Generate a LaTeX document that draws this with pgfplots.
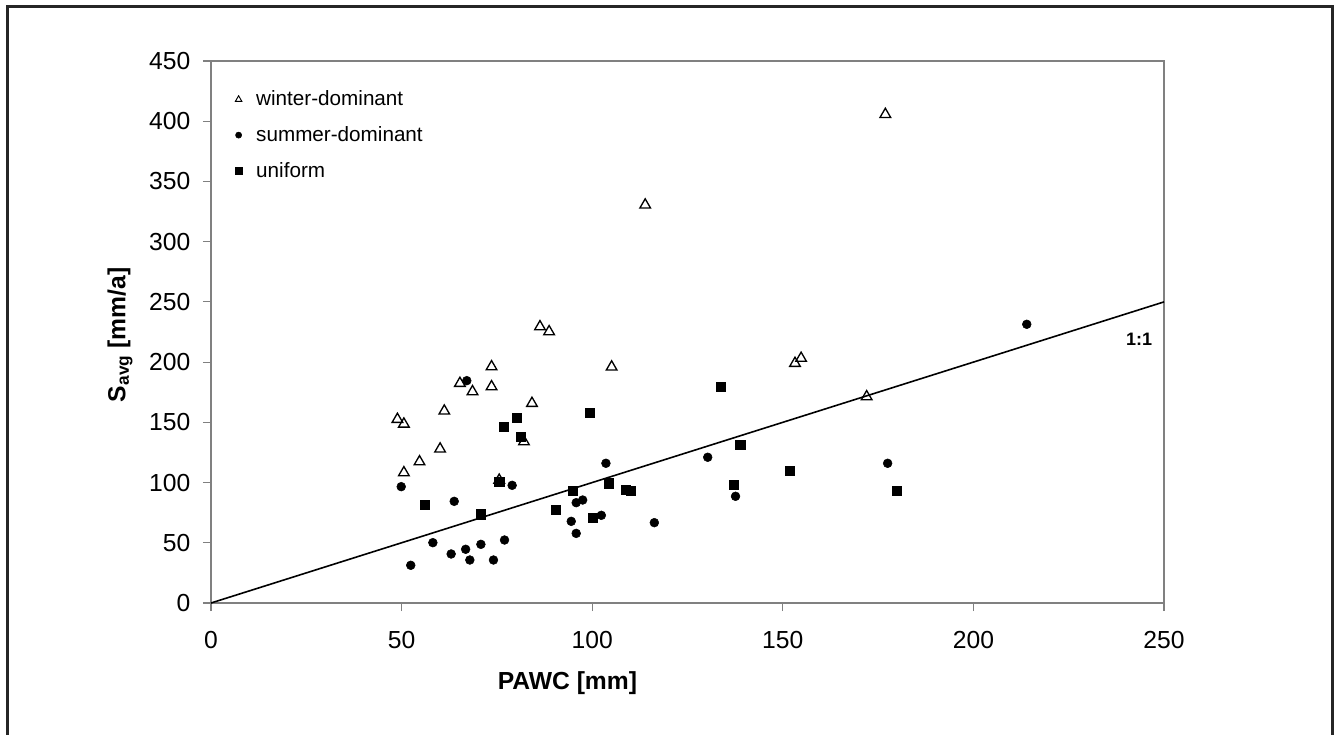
\documentclass[border=0pt]{standalone}
\usepackage{fontspec}
\setmainfont{Liberation Sans}
\usepackage{pgfplots}
\pgfplotsset{compat=1.18}

\pgfplotsset{
    legtri/.style={legend image code/.code={\path (0pt,0pt) (11pt,0pt);\draw[##1, mark size=2.8pt, mark options={line width=0.7pt}] plot coordinates {(0pt,0pt)};}},
    legdot/.style={legend image code/.code={\path (0pt,0pt) (11pt,0pt);\draw[##1, mark size=2.3pt] plot coordinates {(0pt,0pt)};}},
    legsq/.style={legend image code/.code={\path (0pt,0pt) (11pt,0pt);\draw[##1, mark size=2.4pt] plot coordinates {(0pt,0pt)};}},
}

% 1 px of the reference = 0.75pt, axis box south west at (0,0)
\begin{document}
\begin{tikzpicture}[x=1pt,y=1pt]
\useasboundingbox (-158.25,-99) rectangle (845.25,452.25);
\draw[line width=2.25pt, black!85] (-152.25,-99) -- (-152.25,447) -- (840.75,447) -- (840.75,-99);

\begin{axis}[
    at={(0,0)}, anchor=south west,
    scale only axis,
    width=714.75pt, height=406.5pt,
    xmin=0, xmax=250, ymin=0, ymax=450,
    xtick={0,50,...,250},
    ytick={0,50,...,450},
    axis line style={gray, line width=0.8pt},
    tick style={gray, line width=0.8pt},
    tick align=outside,
    major tick length=6pt,
    xtick pos=bottom, ytick pos=left,
    /pgf/number format/assume math mode=true,
    ticklabel style={font=\fontsize{18.5}{21}\selectfont},
    xticklabel style={yshift=-12pt},
    yticklabel style={xshift=-6pt},
    xlabel={\textbf{PAWC [mm]}},
    ylabel={\textbf{S\textsubscript{avg} [mm/a]}},
    label style={font=\fontsize{18.5}{21}\selectfont},
    xlabel style={at={(axis description cs:0.374,-0.148)}, anchor=center},
    ylabel style={at={(axis description cs:-0.0955,0.495)}, anchor=center},
    legend style={at={(axis description cs:0.0225,0.955)}, anchor=north west,
        draw=none, fill=none, font=\fontsize{15.5}{18}\selectfont,
        row sep=10pt, inner sep=2pt},
    legend cell align=left,
    clip=false,
]

% 1:1 line
\addplot[black, line width=1.2pt, forget plot] coordinates {(0,0) (250,250)};

% winter-dominant
\addplot[only marks, mark=triangle, mark size=4.6pt,
    mark options={draw=black, fill=white, line width=1pt}, legtri]
coordinates {
    (48.9,152.5) (50.6,148.6) (50.6,108.2) (54.7,117.3) (60.1,127.9)
    (61.2,159.4) (65.3,182.4) (68.6,175.5) (73.6,196.2) (73.6,179.6)
    (75.6,102.0) (82.1,133.9) (84.2,165.8) (86.3,229.4) (88.7,225.3)
    (105.1,196.0) (113.9,330.5) (153.2,199.0) (154.8,203.2) (172.0,171.3)
    (176.9,405.7)
};
\addlegendentry{winter-dominant}

% summer-dominant
\addplot[only marks, mark=*, mark size=3.3pt, mark options={draw=black, fill=black}, legdot]
coordinates {
    (67.1,184.6) (49.9,96.6) (79.0,97.7) (63.8,84.4) (103.6,116.0)
    (95.8,83.3) (97.5,85.5) (102.4,72.8) (94.5,67.8) (95.8,57.8)
    (116.3,66.7) (58.2,50.1) (63.0,40.7) (66.8,44.6) (70.8,48.7)
    (77.0,52.3) (67.9,35.7) (74.1,35.7) (52.4,31.3) (130.3,121.0)
    (137.6,88.6) (214.0,231.4) (177.5,116.0)
};
\addlegendentry{summer-dominant}

% uniform
\addplot[only marks, mark=square*, mark size=3.5pt, mark options={draw=black, fill=black}, legsq]
coordinates {
    (99.3,158.0) (80.2,153.9) (76.8,146.4) (81.2,138.1) (75.6,100.7)
    (56.1,81.6) (70.7,73.6) (94.9,93.3) (90.4,77.5) (100.1,70.8)
    (104.3,99.4) (108.8,94.1) (110.2,93.3) (133.8,179.6) (138.8,131.2)
    (151.9,109.9) (137.1,98.0) (179.9,93.0)
};
\addlegendentry{uniform}

\node[font=\bfseries\fontsize{13.5}{16}\selectfont] at (axis cs:243.5,219) {1:1};
\end{axis}
\end{tikzpicture}
\end{document}
